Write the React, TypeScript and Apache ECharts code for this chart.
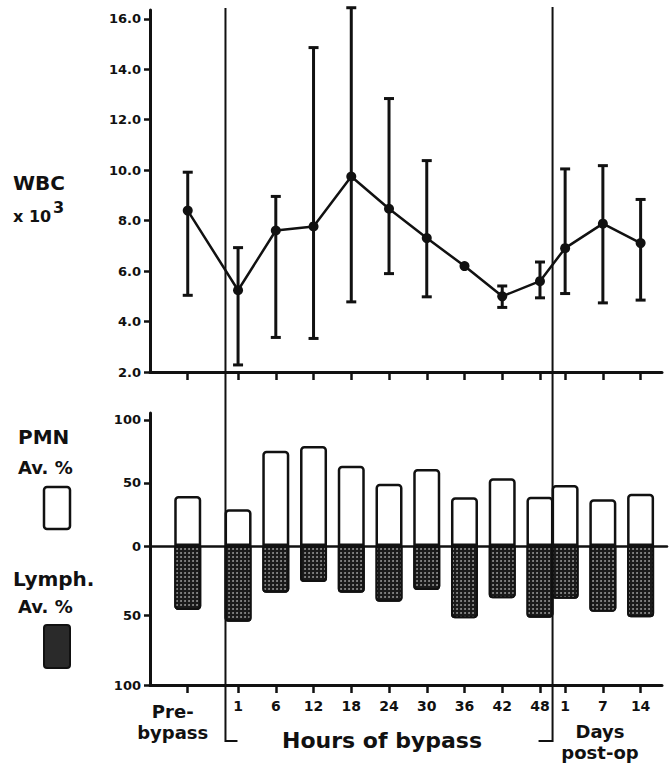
import React, { useEffect, useRef } from 'react';
import * as echarts from 'echarts';

// ---- data ----
const categories = ['Pre-bypass', '1', '6', '12', '18', '24', '30', '36', '42', '48', '1', '7', '14'];
// position of each category along the (non-uniform) time axis
const xPositions = [0, 4, 7, 10, 13, 16, 19, 22, 25, 28, 30, 33, 36];
// boundaries between Pre-bypass | Hours of bypass | Days post-op
const periodBounds = [3, 29];

const wbcMean = [8.4, 5.24, 7.61, 7.77, 9.75, 8.47, 7.31, 6.2, 5.0, 5.6, 6.91, 7.88, 7.11];
const wbcUpper = [9.92, 6.93, 8.96, 14.86, 16.44, 12.84, 10.38, null, 5.41, 6.36, 10.05, 10.18, 8.84];
const wbcLower = [5.04, 2.28, 3.37, 3.33, 4.78, 5.9, 4.98, null, 4.56, 4.94, 5.11, 4.74, 4.85];

const pmnPct = [39.7, 29.1, 75.6, 79.4, 63.7, 49.4, 61.1, 38.7, 53.7, 39.1, 48.4, 37.1, 41.5];
const lymphPct = [46.0, 54.5, 33.6, 25.9, 33.6, 40.1, 31.7, 52.0, 37.6, 51.6, 37.9, 47.3, 51.3];

const wbcTicks = [2, 4, 6, 8, 10, 12, 14, 16];
const pmnTicks = [0, 50, 100];
const lymphTicks = [-100, -50];

const FONT = 'DejaVu Sans';
const INK = '#111';

export default function App() {
  const ref = useRef<HTMLDivElement>(null);

  useEffect(() => {
    const chart = echarts.init(ref.current!, null, { renderer: 'svg' });

    const catIndex = (v: number) => xPositions.indexOf(Math.round(v * 1000) / 1000);

    const errData = xPositions
      .map((x, i) => [x, wbcLower[i], wbcUpper[i]])
      .filter((d) => d[1] != null && d[2] != null);

    const option: any = {
      animation: false,
      backgroundColor: '#fff',
      textStyle: { fontFamily: FONT },
      grid: [
        { left: 150, top: 10, width: 512, height: 362, outerBoundsMode: 'none' },
        { left: 150, top: 413, width: 517, height: 133, outerBoundsMode: 'none' },
        { left: 150, top: 546, width: 512, height: 139, outerBoundsMode: 'none' },
      ],
      xAxis: [
        {
          gridIndex: 0, type: 'value', min: -3, max: 37.7,
          axisLine: { show: true, onZero: false, lineStyle: { color: INK, width: 3 } },
          axisTick: { show: true, inside: false, length: 8, customValues: xPositions, lineStyle: { color: INK, width: 2.5 } },
          axisLabel: { show: false },
          splitLine: { show: false },
        },
        {
          gridIndex: 1, type: 'value', min: -3, max: 38.1,
          axisLine: { show: true, onZero: false, lineStyle: { color: INK, width: 2.5 } },
          axisTick: { show: false },
          axisLabel: { show: false },
          splitLine: { show: false },
        },
        {
          gridIndex: 2, type: 'value', min: -3, max: 37.7, position: 'bottom',
          axisLine: { show: true, onZero: false, lineStyle: { color: INK, width: 3 } },
          axisTick: { show: true, inside: false, length: 8, customValues: xPositions, lineStyle: { color: INK, width: 2.5 } },
          axisLabel: {
            show: true,
            customValues: xPositions.slice(1),
            interval: 0,
            showMinLabel: true,
            showMaxLabel: true,
            hideOverlap: false,
            margin: 14,
            color: INK,
            fontSize: 14,
            fontWeight: 'bold',
            fontFamily: FONT,
            formatter: (v: number) => categories[catIndex(v)] ?? '',
          },
          splitLine: { show: false },
        },
      ],
      yAxis: [
        {
          gridIndex: 0, type: 'value', min: 2, max: 16.35,
          axisLine: { show: true, onZero: false, lineStyle: { color: INK, width: 3 } },
          axisTick: { show: true, length: 6, customValues: wbcTicks, lineStyle: { color: INK, width: 2.5 } },
          axisLabel: {
            customValues: wbcTicks, margin: 9, color: INK, fontSize: 13, fontWeight: 'bold', fontFamily: FONT,
            formatter: (v: number) => v.toFixed(1),
          },
          splitLine: { show: false },
        },
        {
          gridIndex: 1, type: 'value', min: 0, max: 105.5,
          axisLine: { show: true, onZero: false, lineStyle: { color: INK, width: 3 } },
          axisTick: { show: true, length: 6, customValues: pmnTicks, lineStyle: { color: INK, width: 2.5 } },
          axisLabel: {
            customValues: pmnTicks, margin: 9, color: INK, fontSize: 13, fontWeight: 'bold', fontFamily: FONT,
            formatter: (v: number) => String(Math.abs(v)),
          },
          splitLine: { show: false },
        },
        {
          gridIndex: 2, type: 'value', min: -100, max: 0,
          axisLine: { show: true, onZero: false, lineStyle: { color: INK, width: 3 } },
          axisTick: { show: true, length: 6, customValues: lymphTicks, lineStyle: { color: INK, width: 2.5 } },
          axisLabel: {
            customValues: lymphTicks, margin: 9, color: INK, fontSize: 13, fontWeight: 'bold', fontFamily: FONT,
            formatter: (v: number) => String(Math.abs(v)),
          },
          splitLine: { show: false },
        },
      ],
      series: [
        {
          type: 'custom',
          name: 'WBC range',
          xAxisIndex: 0, yAxisIndex: 0,
          clip: false,
          data: errData,
          renderItem: (params: any, api: any) => {
            const x = api.value(0);
            const top = api.coord([x, api.value(2)]);
            const bot = api.coord([x, api.value(1)]);
            const hw = 5;
            const st = { stroke: INK, lineWidth: 3 };
            return {
              type: 'group',
              children: [
                { type: 'line', shape: { x1: top[0], y1: top[1], x2: bot[0], y2: bot[1] }, style: st },
                { type: 'line', shape: { x1: top[0] - hw, y1: top[1], x2: top[0] + hw, y2: top[1] }, style: st },
                { type: 'line', shape: { x1: bot[0] - hw, y1: bot[1], x2: bot[0] + hw, y2: bot[1] }, style: st },
              ],
            };
          },
          z: 2,
        },
        {
          type: 'line',
          name: 'WBC',
          xAxisIndex: 0, yAxisIndex: 0,
          data: xPositions.map((x, i) => [x, wbcMean[i]]),
          symbol: 'circle',
          symbolSize: 10,
          itemStyle: { color: INK },
          lineStyle: { color: INK, width: 2.5 },
          clip: false,
          z: 3,
        },
        {
          type: 'bar',
          name: 'PMN Av. %',
          xAxisIndex: 1, yAxisIndex: 1,
          data: xPositions.map((x, i) => [x, pmnPct[i]]),
          barWidth: 27,
          itemStyle: { color: '#fff', borderColor: INK, borderWidth: 2.5, borderRadius: [3, 3, 0, 0] },
          z: 2,
        },
        {
          type: 'bar',
          name: 'Lymph. Av. %',
          xAxisIndex: 2, yAxisIndex: 2,
          data: xPositions.map((x, i) => [x, -lymphPct[i]]),
          barWidth: 27,
          itemStyle: {
            color: '#1a1a1a', borderColor: INK, borderWidth: 2, borderRadius: [0, 0, 3, 3],
            decal: { symbol: 'circle', symbolSize: 0.9, color: '#9a9a9a', dashArrayX: [1.5, 1.5], dashArrayY: [1.5, 1.5] },
          },
          z: 2,
        },
      ],
    };

    chart.setOption(option);

    const px = (v: number) => chart.convertToPixel({ xAxisIndex: 0 }, v) as number;
    const b0 = px(periodBounds[0]);
    const b1 = px(periodBounds[1]);
    const preX = px(xPositions[0]) - 15;
    const txt = (text: string, x: number, y: number, size: number, align = 'left', weight = 'bold') => ({
      type: 'text',
      x, y,
      style: { text, fill: INK, fontSize: size, fontWeight: weight, fontFamily: FONT, align, verticalAlign: 'middle' },
      z: 10,
    });

    chart.setOption({
      graphic: [
        { type: 'polyline', shape: { points: [[b0, 8], [b0, 741], [b0 + 12, 741]] }, style: { stroke: INK, lineWidth: 2, fill: null }, z: 10 },
        { type: 'polyline', shape: { points: [[b1, 7], [b1, 741], [b1 - 14, 741]] }, style: { stroke: INK, lineWidth: 2, fill: null }, z: 10 },
        txt('WBC', 13, 183, 20),
        txt('x 10', 13, 216, 16),
        txt('3', 53, 207, 16),
        txt('PMN', 18, 437, 20),
        txt('Av. %', 18, 467, 18),
        { type: 'rect', shape: { x: 44, y: 487, width: 26, height: 42, r: 3 }, style: { fill: '#fff', stroke: INK, lineWidth: 2.5 }, z: 10 },
        txt('Lymph.', 13, 579, 20),
        txt('Av. %', 18, 606, 18),
        { type: 'rect', shape: { x: 44, y: 625, width: 26, height: 43, r: 3 }, style: { fill: '#2a2a2a', stroke: INK, lineWidth: 2 }, z: 10 },
        txt('Pre-', preX, 711, 18, 'center'),
        txt('bypass', preX, 732, 18, 'center'),
        txt('Hours of bypass', 382, 740, 22, 'center'),
        txt('Days', 600, 731, 18, 'center'),
        txt('post-op', 600, 752, 18, 'center'),
      ],
    });

    return () => chart.dispose();
  }, []);

  return <div ref={ref} style={{ position: 'absolute', left: 0, top: 0, width: 669, height: 763 }} />;
}
